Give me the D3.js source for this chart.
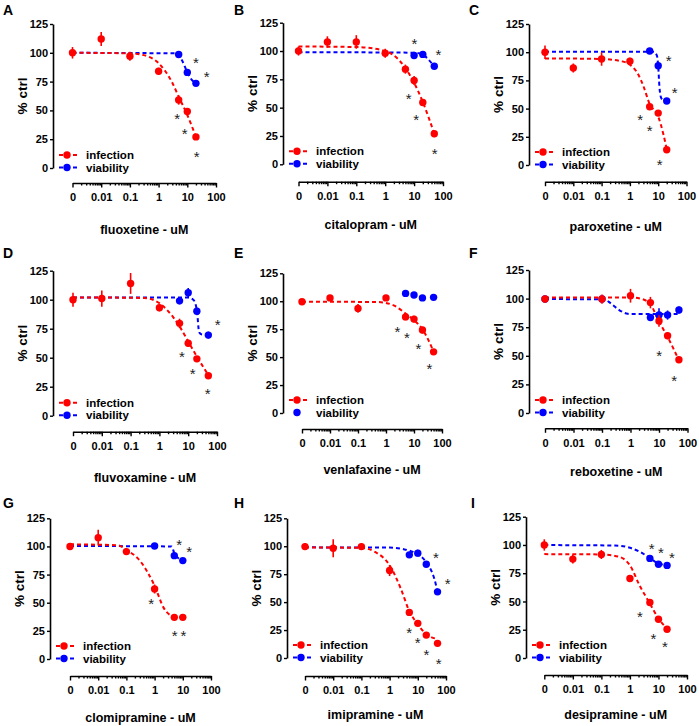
<!DOCTYPE html>
<html>
<head>
<meta charset="utf-8">
<script src="https://cdn.jsdelivr.net/npm/d3@7"></script>
<style>
  body { margin: 0; background: #fff; }
  svg text { font-family: "Liberation Sans", Arial, sans-serif; font-weight: bold; fill: #000; }
</style>
</head>
<body>
<svg id="chart" width="699" height="726"></svg>
<script>
// panel letters + drugs
const letters = ["A", "B", "C", "D", "E", "F", "G", "H", "I"];
const drugs = ["fluoxetine", "citalopram", "paroxetine", "fluvoxamine", "venlafaxine",
  "reboxetine", "clomipramine", "imipramine", "desipramine"];

const yTicks = [0, 25, 50, 75, 100, 125];
const xTickValues = [0.001, 0.01, 0.1, 1, 10, 100];
const xTickLabels = ["0", "0.01", "0.1", "1", "10", "100"];

// infection (red) - concentration uM, % ctrl, error
const infConc = [
  [0, 0.01, 0.1, 1, 5, 10, 20],
  [0, 0.01, 0.1, 1, 5, 10, 20, 50],
  [0, 0.01, 0.1, 1, 5, 10, 20],
  [0, 0.01, 0.1, 1, 5, 10, 20, 50],
  [0, 0.01, 0.1, 1, 5, 10, 20, 50],
  [0, 0.1, 1, 5, 10, 20, 50],
  [0, 0.01, 0.1, 1, 5, 10],
  [0, 0.01, 0.1, 1, 5, 10, 20, 50],
  [0, 0.01, 0.1, 1, 5, 10, 20]
];
const infVal = [
  [100, 112, 97, 84, 59, 49, 27],
  [100, 108, 108, 98, 84, 74, 54.5, 27],
  [100, 86, 94, 92, 51.7, 46, 13.5],
  [100, 101, 114, 93, 79.6, 62.4, 49, 34.5],
  [99.6, 103, 93.6, 103, 86, 84, 74.2, 54.7],
  [99.6, 99.6, 102.5, 96.5, 80.5, 67.5, 46.5],
  [100, 107.8, 95.4, 62.2, 37, 37],
  [99.7, 98.2, 99.7, 78.3, 40.8, 31, 20.5, 13.1],
  [100, 87.5, 91.6, 70.3, 49.1, 34.3, 25.4]
];
const infErr = [
  [5, 6, 4, 3, 4, 2, 2],
  [4, 5, 6, 4, 4, 4, 3, 3],
  [6, 4, 6, 3, 2, 2, 2],
  [6, 7, 9, 3, 4, 3, 2, 2],
  [2, 2, 4, 2, 3, 3, 3, 2],
  [3, 4, 6, 5, 5, 3, 2],
  [2, 7, 2, 4, 1.5, 1.5],
  [3, 8, 3, 5, 3, 2, 2, 2],
  [5, 4, 4, 3, 3, 2, 2]
];

// viability (blue)
const viaConc = [
  [5, 10, 20],
  [10, 20, 50],
  [5, 10, 20],
  [5, 10, 20, 50],
  [5, 10, 20, 50],
  [0, 0.1, 5, 10, 20, 50],
  [1, 5, 10],
  [5, 10, 20, 50],
  [5, 10, 20]
];
const viaVal = [
  [98.5, 83, 73.5],
  [96, 97, 86.5],
  [101, 88, 56.7],
  [99, 106, 90, 69.5],
  [107, 105.6, 103, 103.5],
  [99.6, 99.6, 83.5, 85.6, 85.6, 90],
  [100.4, 91.8, 87.4],
  [92.3, 93.8, 83.9, 59.2],
  [88.1, 83, 81.9]
];
const viaErr = [
  [1.5, 1.5, 1.5],
  [1.5, 1.5, 1.5],
  [1.5, 1.5, 1.5],
  [3, 4, 3, 3],
  [1.5, 1.5, 1.5, 1.5],
  [2, 2, 3, 6, 4, 3],
  [1.5, 1.5, 1.5],
  [2, 3, 2, 2],
  [1.5, 1.5, 1.5]
];

// fitted curves: [conc, % ctrl]
const infCurve = [
  [[0, 100], [0.1, 99.5], [0.3, 98], [1, 91], [3, 74], [5, 62], [10, 46], [20, 27]],
  [[0, 104], [0.1, 103.5], [1, 100], [3, 92], [5, 85], [10, 72], [20, 55], [50, 27]],
  [[0, 94.5], [0.1, 94], [0.5, 92], [1, 89], [2, 80], [3, 70], [5, 54], [10, 43], [15, 28], [20, 14]],
  [[0, 102], [0.3, 101.5], [1, 97], [3, 85], [5, 77], [10, 64], [20, 51], [50, 35]],
  [[0, 99.6], [0.5, 99.3], [1, 98.5], [2, 96], [5, 89], [10, 83], [20, 75], [50, 55]],
  [[0, 101], [1, 101], [3, 99], [5, 95], [10, 80], [20, 66.6], [50, 46]],
  [[0, 101.9], [0.05, 101], [0.1, 97], [0.32, 86.5], [1, 65], [2.15, 45], [5, 37.6], [10, 37]],
  [[0, 99], [0.1, 98.5], [0.3, 95], [1, 83], [2.5, 62], [5, 42], [10, 30], [20, 21.4], [50, 17]],
  [[0, 91.9], [0.1, 91.6], [0.43, 89.5], [1, 82], [2.2, 64], [5, 48.2], [10, 34.9], [20, 26]]
];
const viaCurve = [
  [[0, 100], [4, 99.5], [5, 98], [7, 92], [10, 83], [15, 76], [20, 74]],
  [[0, 99], [10, 98.5], [20, 97], [30, 93], [50, 86.5]],
  [[0, 100.5], [7, 100.3], [9, 97], [10, 88], [11, 70], [12.5, 60], [15, 57.5], [20, 56.7]],
  [[0, 102], [10, 101.8], [15, 100], [20, 91], [24, 72], [30, 70], [50, 69.5]],
  null,
  [[0, 99.6], [0.12, 99.3], [0.2, 96], [0.4, 90], [0.8, 86.7], [1, 86.5], [50, 86.5]],
  [[0, 100.4], [4, 100], [5, 94], [7, 89.5], [10, 87.4]],
  [[0, 99], [1, 98.8], [3, 97.5], [7.4, 94.3], [21, 84.8], [38, 71.4], [50, 59.5]],
  [[0, 99.9], [0.3, 99.5], [1, 97.5], [2.2, 94], [5, 88.5], [10, 83.6], [20, 82.2]]
];

// significance asterisks: [conc, % ctrl]
const stars = [
  [[20, 94.4], [47, 82.3], [4.4, 45.6], [8.1, 32.3], [21, 13]],
  [[10.3, 109], [70, 100], [6.5, 61], [11.7, 42], [51, 12.6]],
  [[23.5, 95.4], [38.5, 66.5], [2.3, 42.8], [5, 33], [11.3, 3]],
  [[105, 81], [6, 53.7], [14.2, 38.8], [47, 21.6]],
  [[2.57, 75.7], [5.6, 70.3], [14.4, 60.7], [35.7, 42.2]],
  [[10.1, 52.9], [34, 30.7]],
  [[7.4, 104.3], [16.8, 98.3], [0.76, 52.4], [5.1, 23.4], [10.6, 23.4]],
  [[44, 92.3], [114, 69.3], [4.9, 25.9], [9.8, 16.4], [20.4, 5.4], [55, -2.4]],
  [[5.8, 99.9], [12.3, 96.3], [29.8, 91.9], [2.25, 39.3], [6.6, 20.1], [16.9, 12.7]]
];

// panel placement
const layout = [
  { ax: 53, x0: 72.5, x1: 216, top: 24, bot: 168, xa: 183, lab: 230, lx: 3, ly: 15 },
  { ax: 283, x0: 298.5, x1: 443, top: 22.7, bot: 164.3, xa: 181.7, lab: 225, lx: 234, ly: 15 },
  { ax: 529, x0: 545, x1: 686.5, top: 24, bot: 165, xa: 181.7, lab: 227, lx: 469, ly: 15 },
  { ax: 53, x0: 73, x1: 217, top: 270.7, bot: 415.7, xa: 431.7, lab: 478, lx: 3, ly: 258 },
  { ax: 283, x0: 302, x1: 442, top: 273.3, bot: 413, xa: 429, lab: 470, lx: 234, ly: 258 },
  { ax: 529, x0: 545, x1: 687.5, top: 270, bot: 413, xa: 428.3, lab: 472, lx: 469, ly: 258 },
  { ax: 50, x0: 70, x1: 211, top: 518.3, bot: 659, xa: 676, lab: 718, lx: 3, ly: 508 },
  { ax: 287, x0: 305, x1: 446, top: 518.3, bot: 658, xa: 676, lab: 715, lx: 234, ly: 508 },
  { ax: 526, x0: 544.3, x1: 687, top: 516.7, bot: 658, xa: 675, lab: 715, lx: 471, ly: 508 }
];

const RED = "#ff0000", BLUE = "#0000ff";
const R = 3.7;
const svg = d3.select("#chart");

const minorTicks = [];
for (let k = -3; k < 2; k++) for (let m = 2; m < 10; m++) minorTicks.push(m * Math.pow(10, k));

function drawPanel(i) {
  const L = layout[i];
  const g = svg.append("g");
  const x = d3.scaleLog().domain([0.001, 100]).range([L.x0, L.x1]);
  const y = d3.scaleLinear().domain([0, 125]).range([L.bot, L.top]);
  const cx = (c) => x(c === 0 ? 0.001 : c);

  // y axis
  const ya = g.append("g")
    .attr("transform", `translate(${L.ax},0)`)
    .call(d3.axisLeft(y).tickValues(yTicks).tickSize(3).tickPadding(2).tickSizeOuter(0));
  ya.selectAll("text").style("font-size", "11px");

  // x axis (major + minor)
  const xa = g.append("g")
    .attr("transform", `translate(0,${L.xa})`)
    .call(d3.axisBottom(x).tickValues(xTickValues).tickFormat((d, j) => xTickLabels[j])
      .tickSize(4.5).tickPadding(6).tickSizeOuter(0));
  xa.selectAll("text").style("font-size", "11px");
  g.append("g")
    .attr("transform", `translate(0,${L.xa})`)
    .call(d3.axisBottom(x).tickValues(minorTicks).tickFormat("").tickSize(2.5))
    .select(".domain").remove();

  g.selectAll(".domain").attr("stroke-width", 1.6);
  g.selectAll(".tick line").attr("stroke-width", 1.4);

  // titles
  g.append("text").attr("x", L.lx).attr("y", L.ly).style("font-size", "14px").text(letters[i]);
  g.append("text")
    .attr("transform", `translate(${L.ax - 31},${(L.top + L.bot) / 2}) rotate(-90)`)
    .attr("text-anchor", "middle").attr("dy", "0.35em")
    .style("font-size", "13.5px").text("% ctrl");
  g.append("text")
    .attr("x", (L.x0 + L.x1) / 2).attr("y", L.lab).attr("dy", "0.35em")
    .attr("text-anchor", "middle").style("font-size", "12.5px")
    .text(drugs[i] + " - uM");

  const line = d3.line().x((d) => cx(d[0])).y((d) => y(d[1])).curve(d3.curveMonotoneX);

  const series = [
    { conc: viaConc[i], val: viaVal[i], err: viaErr[i], curve: viaCurve[i], color: BLUE },
    { conc: infConc[i], val: infVal[i], err: infErr[i], curve: infCurve[i], color: RED }
  ];

  series.forEach((s) => {
    if (s.curve) {
      g.append("path").attr("d", line(s.curve)).attr("fill", "none")
        .attr("stroke", s.color).attr("stroke-width", 2).attr("stroke-dasharray", "4,3");
    }
  });
  series.forEach((s) => {
    const pts = s.conc.map((c, j) => ({ c, v: s.val[j], e: s.err[j] }));
    g.selectAll(null).data(pts).enter().append("line")
      .attr("x1", (d) => cx(d.c)).attr("x2", (d) => cx(d.c))
      .attr("y1", (d) => y(d.v - d.e)).attr("y2", (d) => y(d.v + d.e))
      .attr("stroke", s.color).attr("stroke-width", 1.6);
    g.selectAll(null).data(pts).enter().append("circle")
      .attr("cx", (d) => cx(d.c)).attr("cy", (d) => y(d.v)).attr("r", R)
      .attr("fill", s.color);
  });

  // asterisks
  g.selectAll(null).data(stars[i]).enter().append("text")
    .attr("x", (d) => cx(d[0])).attr("y", (d) => y(d[1]) + 8.5)
    .attr("text-anchor", "middle")
    .style("font-size", "15px").style("font-weight", "normal").style("fill", "#222")
    .text("*");

  // legend
  const rows = [
    { name: "infection", color: RED, y: L.bot - 13, line: true },
    { name: "viability", color: BLUE, y: L.bot - 0.5, line: viaCurve[i] !== null }
  ];
  rows.forEach((r) => {
    if (r.line) {
      g.append("line").attr("x1", L.ax + 6).attr("x2", L.ax + 26)
        .attr("y1", r.y).attr("y2", r.y)
        .attr("stroke", r.color).attr("stroke-width", 2).attr("stroke-dasharray", "4,3");
    }
    g.append("circle").attr("cx", L.ax + 14).attr("cy", r.y).attr("r", R).attr("fill", r.color);
    g.append("text").attr("x", L.ax + 33).attr("y", r.y).attr("dy", "0.35em")
      .style("font-size", "11.5px").text(r.name);
  });
}

letters.forEach((_, i) => drawPanel(i));
</script>
</body>
</html>
